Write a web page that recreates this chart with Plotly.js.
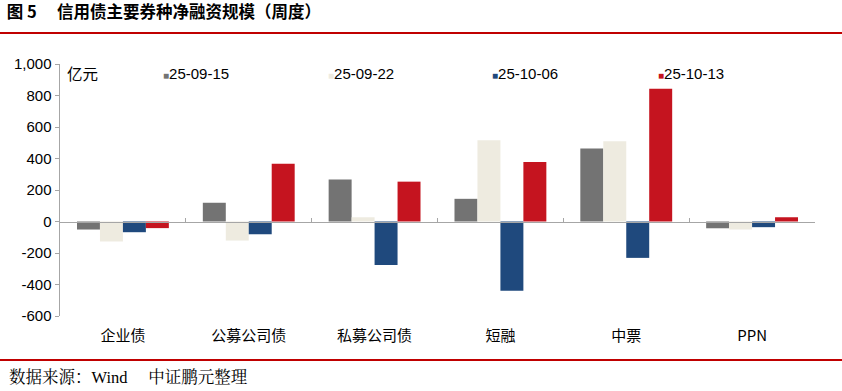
<!DOCTYPE html>
<html>
<head>
<meta charset="utf-8">
<script src="https://cdn.plot.ly/plotly-3.0.1.min.js"></script>
<style>html,body{margin:0;padding:0;background:#fff;}#chart{width:842px;height:391px;}</style>
</head>
<body>
<div id="chart"></div>
<script>
const categories = ['企业债', '公募公司债', '私募公司债', '短融', '中票', 'PPN'];
const seriesNames = ['25-09-15', '25-09-22', '25-10-06', '25-10-13'];
const s0915 = [-51, 119, 267, 144, 463, -43];
const s0922 = [-127, -121, 27, 516, 509, -51];
const s1006 = [-68, -81, -276, -439, -231, -36];
const s1013 = [-42, 367, 253, 377, 843, 27];
const yTickVals = [-600, -400, -200, 0, 200, 400, 600, 800, 1000];
const yTickText = ['-600', '-400', '-200', '0', '200', '400', '600', '800', '1,000'];
const colors = ['#737373', '#EEEBE0', '#1F497D', '#C5141F'];

const seriesValues = [s0915, s0922, s1006, s1013];
const traces = seriesValues.map((v, i) => ({
  type: 'bar',
  name: seriesNames[i],
  x: categories,
  y: v,
  marker: {color: colors[i], line: {width: 0}}
}));

const W = 842, L = 60, R = 27, T = 64, B = 75;
const pw = W - L - R, ph = 391 - T - B;
const px = v => (v - L) / pw;
const py = v => 1 - (v - T) / ph;

const legendX = [161, 326, 490, 656];
const legendAnn = seriesNames.map((n, i) => ({
  text: '<span style="color:' + colors[i] + ';font-size:10px">■</span>' + n,
  xref: 'paper', yref: 'paper', x: px(legendX[i]), y: py(73),
  xanchor: 'left', yanchor: 'middle', showarrow: false,
  font: {family: 'Liberation Sans, Arial, sans-serif', size: 15, color: '#000'}
}));

const layout = {
  width: 842, height: 391,
  margin: {l: L, r: R, t: T, b: B},
  paper_bgcolor: '#fff', plot_bgcolor: '#fff',
  font: {family: 'Liberation Sans, Arial, sans-serif', size: 14, color: '#000'},
  barmode: 'group',
  bargap: 0.27,
  bargroupgap: 0,
  showlegend: false,
  title: {
    text: '<b>图 5　 信用债主要券种净融资规模（周度）</b>',
    x: 0.008, xanchor: 'left', xref: 'container',
    y: 0.968, yanchor: 'middle', yref: 'container',
    font: {family: 'Noto Sans CJK SC, sans-serif', size: 16.5, color: '#000'}
  },
  xaxis: {
    type: 'category',
    anchor: 'free', position: 0.375,
    showline: true, linecolor: '#A6A6A6', linewidth: 1.5,
    ticks: 'inside', ticklen: 4, tickcolor: '#A6A6A6', tickson: 'boundaries',
    ticklabelstandoff: 100,
    tickfont: {family: 'Noto Sans CJK SC, sans-serif', size: 15, color: '#000'},
    showgrid: false, zeroline: false, fixedrange: true
  },
  yaxis: {
    range: [-600, 1000],
    tickvals: yTickVals, ticktext: yTickText,
    showline: true, linecolor: '#A6A6A6', linewidth: 1.5,
    ticks: 'outside', ticklen: 4, tickcolor: '#A6A6A6',
    showgrid: false, zeroline: false,
    tickfont: {family: 'Liberation Sans, Arial, sans-serif', size: 15, color: '#000'},
    fixedrange: true
  },
  shapes: [
    {type: 'line', xref: 'paper', yref: 'paper', x0: px(0), x1: px(W),
     y0: py(33), y1: py(33), line: {color: '#C00000', width: 2.2}},
    {type: 'line', xref: 'paper', yref: 'paper', x0: px(0), x1: px(W),
     y0: py(360), y1: py(360), line: {color: '#C00000', width: 2.2}}
  ],
  annotations: [
    {text: '亿元', xref: 'paper', yref: 'paper', x: px(65), y: py(73),
     xanchor: 'left', yanchor: 'middle', showarrow: false,
     font: {family: 'Noto Sans CJK SC, sans-serif', size: 15.5, color: '#000'}},
    {text: '数据来源：<span style="font-family:Liberation Serif">Wind</span>　 中证鹏元整理',
     xref: 'paper', yref: 'paper', x: px(7), y: py(376),
     xanchor: 'left', yanchor: 'middle', showarrow: false,
     font: {family: 'Noto Serif CJK SC, Noto Sans CJK SC, serif', size: 16.5, color: '#000'}}
  ].concat(legendAnn)
};

Plotly.newPlot('chart', traces, layout, {displayModeBar: false, staticPlot: true});
</script>
</body>
</html>
